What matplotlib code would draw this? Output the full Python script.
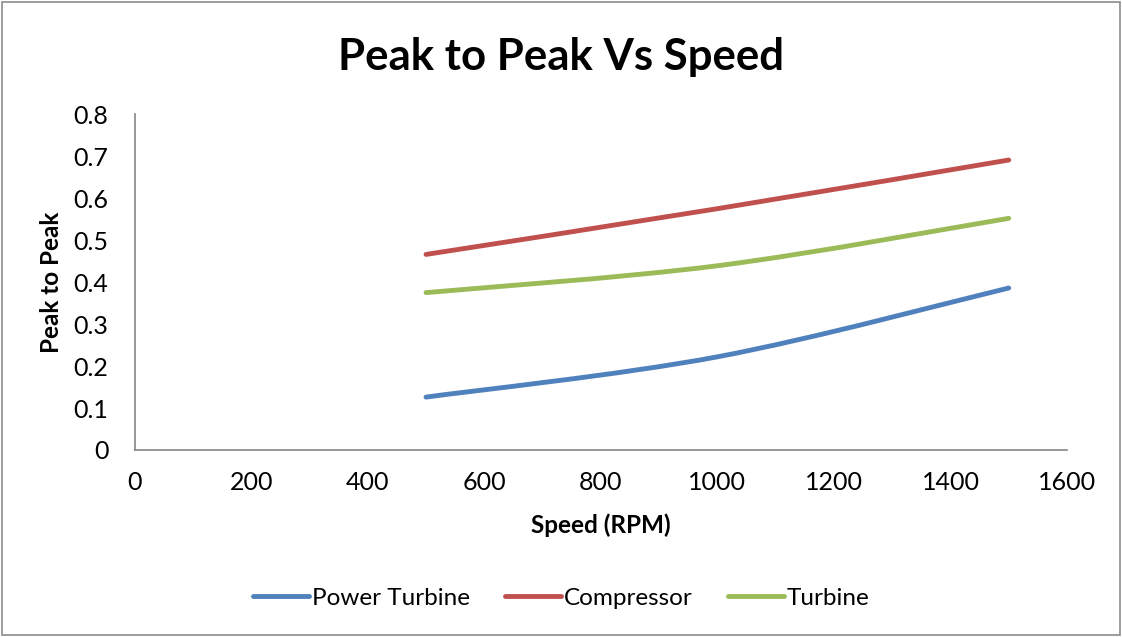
import matplotlib
matplotlib.use("Agg")
import matplotlib.pyplot as plt
from matplotlib.path import Path
from matplotlib.patches import PathPatch, Rectangle
from matplotlib.lines import Line2D

plt.rcParams["font.family"] = ["Lato", "DejaVu Sans"]

# data
speed = [500, 1000, 1500]
power_turbine = [0.126, 0.222, 0.386]
compressor = [0.466, 0.575, 0.691]
turbine = [0.375, 0.439, 0.552]

series_names = ["Power Turbine", "Compressor", "Turbine"]
series_colors = ["#4F81BD", "#C0504D", "#9BBB59"]
x_ticks = [0, 200, 400, 600, 800, 1000, 1200, 1400, 1600]
y_ticks = [0, 0.1, 0.2, 0.3, 0.4, 0.5, 0.6, 0.7, 0.8]


def smooth_path(xs, ys):
    # Excel style smoothed line: cubic bezier through every point
    pts = list(zip(xs, ys))
    n = len(pts)
    verts = [pts[0]]
    codes = [Path.MOVETO]
    for i in range(n - 1):
        p0 = pts[i - 1] if i > 0 else pts[i]
        p1 = pts[i]
        p2 = pts[i + 1]
        p3 = pts[i + 2] if i + 2 < n else pts[i + 1]
        c1 = (p1[0] + (p2[0] - p0[0]) / 6, p1[1] + (p2[1] - p0[1]) / 6)
        c2 = (p2[0] - (p3[0] - p1[0]) / 6, p2[1] - (p3[1] - p1[1]) / 6)
        verts += [c1, c2, p2]
        codes += [Path.CURVE4] * 3
    return Path(verts, codes)


fig = plt.figure(figsize=(11.22, 6.37), dpi=100)
ax = fig.add_axes([0.120, 0.2936, 0.831, 0.527])

handles = []
for name, color, vals in zip(series_names, series_colors,
                             [power_turbine, compressor, turbine]):
    patch = PathPatch(smooth_path(speed, vals), facecolor="none",
                      edgecolor=color, linewidth=3.5, capstyle="round")
    ax.add_patch(patch)
    handles.append(Line2D([], [], color=color, linewidth=3.5,
                          solid_capstyle="round", label=name))

ax.set_xlim(0, 1600)
ax.set_ylim(0, 0.8)
ax.set_xticks(x_ticks)
ax.set_yticks(y_ticks)
ax.set_yticklabels(["0"] + [f"{v:.1f}" for v in y_ticks[1:]])
ax.tick_params(length=0, labelsize=18)
ax.tick_params(axis="x", pad=15)
ax.tick_params(axis="y", pad=19)
for side in ["top", "right"]:
    ax.spines[side].set_visible(False)
for side in ["left", "bottom"]:
    ax.spines[side].set_color("#868686")
    ax.spines[side].set_linewidth(1.2)

ax.set_xlabel("Speed (RPM)", fontsize=17.5, fontweight="bold", va="center")
ax.set_ylabel("Peak to Peak", fontsize=17.5, fontweight="bold", va="center")
ax.xaxis.set_label_coords(0.5, -0.223)
ax.yaxis.set_label_coords(-0.089, 0.5)
fig.suptitle("Peak to Peak Vs Speed", fontsize=31.5, fontweight="bold",
             x=0.5, y=0.942)

fig.legend(handles=handles, loc="center", bbox_to_anchor=(0.5, 0.061),
           ncol=3, frameon=False, fontsize=17.5, handlelength=2.3,
           handletextpad=0.12, columnspacing=1.45)

fig.patches.append(Rectangle((0.002, 0.003), 0.996, 0.994,
                             transform=fig.transFigure, fill=False,
                             edgecolor="#8c8c8c", linewidth=1.2))

fig.savefig("out.png", dpi=100)
